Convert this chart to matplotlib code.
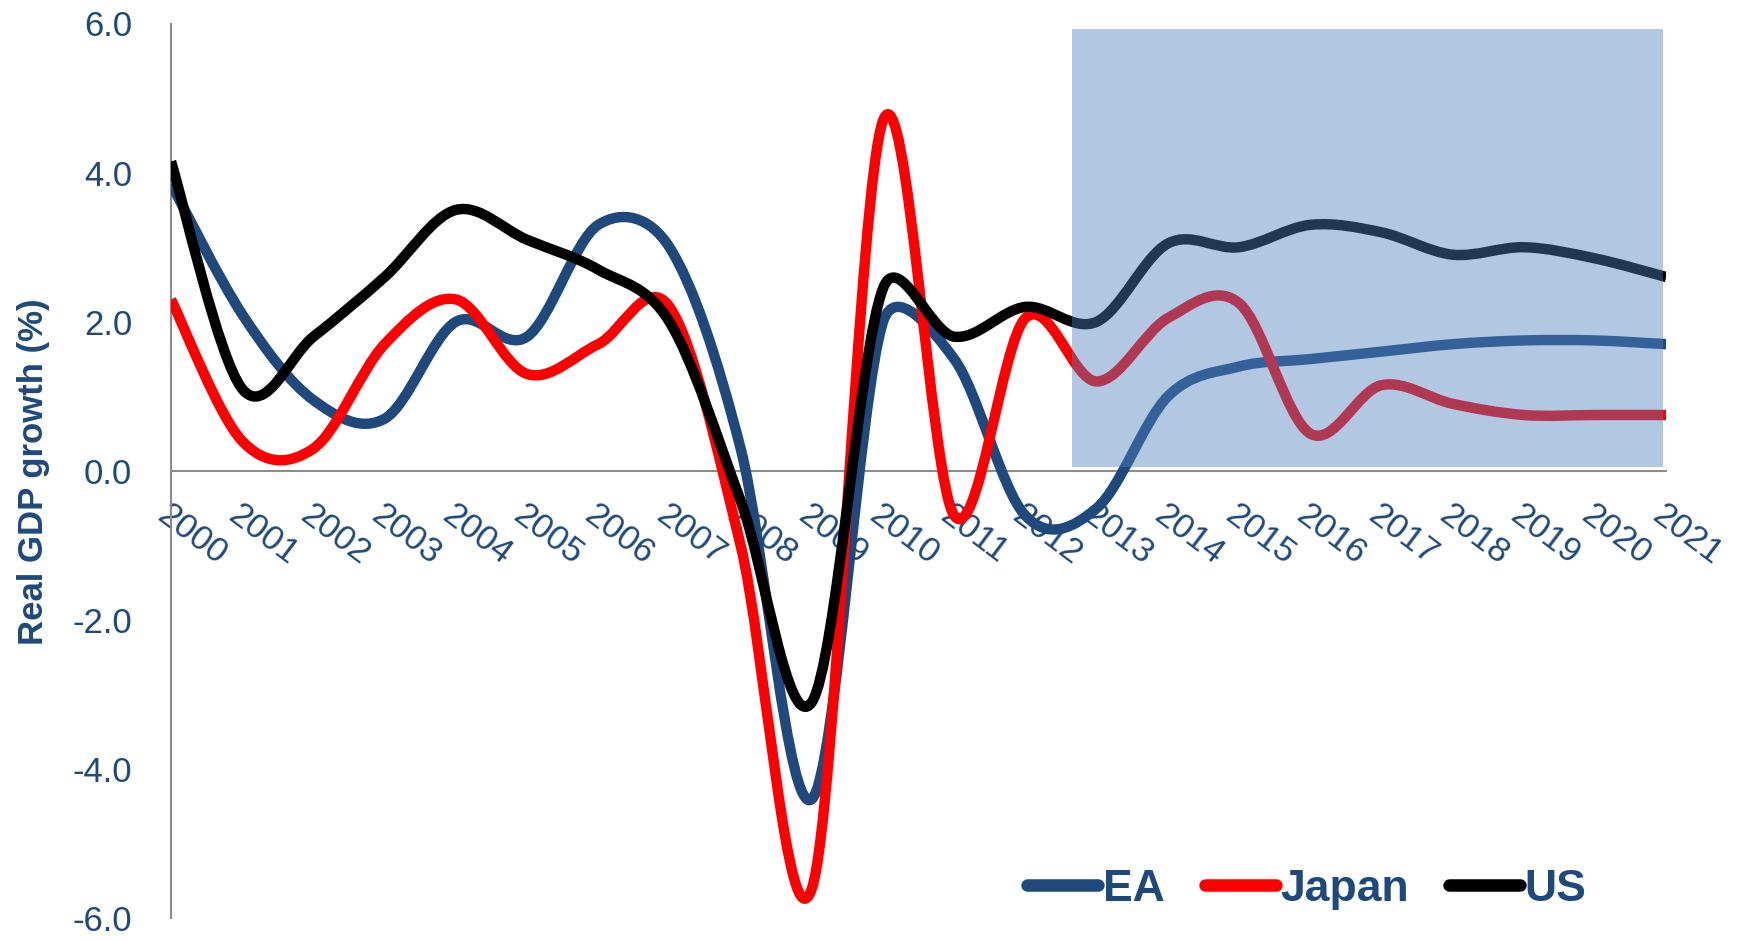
import matplotlib
matplotlib.use("Agg")
import matplotlib.pyplot as plt
from matplotlib.path import Path
from matplotlib.patches import PathPatch, Rectangle
from matplotlib.lines import Line2D
import numpy as np

# data
years = list(range(2000, 2022))
ea = [3.85, 2.1, 0.95, 0.7, 2.0, 1.8, 3.3, 3.0, 0.3, -4.4, 2.0, 1.5, -0.6, -0.5,
      1.0, 1.4, 1.5, 1.6, 1.7, 1.75, 1.75, 1.7]
japan = [2.3, 0.4, 0.3, 1.7, 2.3, 1.3, 1.7, 2.2, -1.0, -5.6, 4.7, -0.6, 2.05, 1.2,
         2.05, 2.25, 0.5, 1.15, 0.9, 0.75, 0.75, 0.75]
us = [4.15, 1.1, 1.8, 2.6, 3.5, 3.1, 2.7, 2.0, -0.4, -3.1, 2.45, 1.8, 2.2, 2.0,
      3.05, 3.0, 3.3, 3.2, 2.9, 3.0, 2.85, 2.6]
series = [("EA", ea, "#1F497D"), ("Japan", japan, "#FF0000"), ("US", us, "#000000")]
forecast_start = 2012.66
yticks = [-6, -4, -2, 0, 2, 4, 6]

txt = "#1F497D"
plt.rcParams['font.family'] = ['Liberation Sans', 'DejaVu Sans']


def smooth_path(ax, x, y):
    # excel-like smoothed line: bezier, arm = min(|P2-P0|/6, |P2-P1|/2) in pixels
    p = ax.transData.transform(np.column_stack([x, y]).astype(float))
    n = len(p)
    verts = [p[0]]
    codes = [Path.MOVETO]

    def arm(i, seg):
        a = p[i - 1] if i > 0 else p[i]
        b = p[i + 1] if i + 1 < n else p[i]
        t = b - a
        L = np.hypot(*t)
        if L == 0:
            return t
        size = min(L / 6.0, seg / 2.0)
        return t / L * size

    for i in range(n - 1):
        seg = np.hypot(*(p[i + 1] - p[i]))
        c1 = p[i] + arm(i, seg)
        c2 = p[i + 1] - arm(i + 1, seg)
        verts += [c1, c2, p[i + 1]]
        codes += [Path.CURVE4] * 3
    verts = ax.transData.inverted().transform(np.array(verts))
    return Path(verts, codes)


fig = plt.figure(figsize=(17.54, 9.40), dpi=100)
ax = fig.add_axes([0.0975, 0.023, 0.8525, 0.952])
ax.set_xlim(2000, 2021)
ax.set_ylim(-6, 6)

for s in ['top', 'right']:
    ax.spines[s].set_visible(False)
ax.spines['bottom'].set_position(('data', 0))
for s in ['left', 'bottom']:
    ax.spines[s].set_color('#8C8C8C')
    ax.spines[s].set_linewidth(1.5)

for name, vals, col in series:
    patch = PathPatch(smooth_path(ax, years, vals), fill=False, edgecolor=col,
                      lw=7.5, joinstyle='round', capstyle='butt', zorder=3)
    ax.add_patch(patch)

# shaded forecast box, drawn over the lines
ax.add_patch(Rectangle((forecast_start, 0.05), 2020.95 - forecast_start, 5.87,
                       facecolor="#4F81BD", edgecolor='none', alpha=0.44, zorder=4))

ax.set_yticks(yticks)
ax.set_yticklabels(["%.1f" % v for v in yticks], fontsize=25, color=txt)
ax.set_xticks(years)
ax.set_xticklabels([str(y) for y in years], fontsize=25, color=txt,
                   rotation=-37, ha='left', va='top', rotation_mode='anchor')
ax.tick_params(axis='both', length=0)
ax.tick_params(axis='y', pad=28)
ax.tick_params(axis='x', pad=20)

fig.text(0.019, 0.498, "Real GDP growth (%)", rotation=90, fontsize=25,
         fontweight='bold', color=txt, ha='center', va='center')

handles = [Line2D([], [], color=c, lw=9, solid_capstyle='round') for _, _, c in series]
leg = fig.legend(handles, [s[0] for s in series], loc='center',
                 bbox_to_anchor=(0.745, 0.054), ncol=3, frameon=False,
                 handlelength=1.6, handletextpad=0.1, columnspacing=0.9,
                 prop={'size': 32, 'weight': 'bold'})
for t in leg.get_texts():
    t.set_color(txt)

fig.savefig("out.png", dpi=100)
